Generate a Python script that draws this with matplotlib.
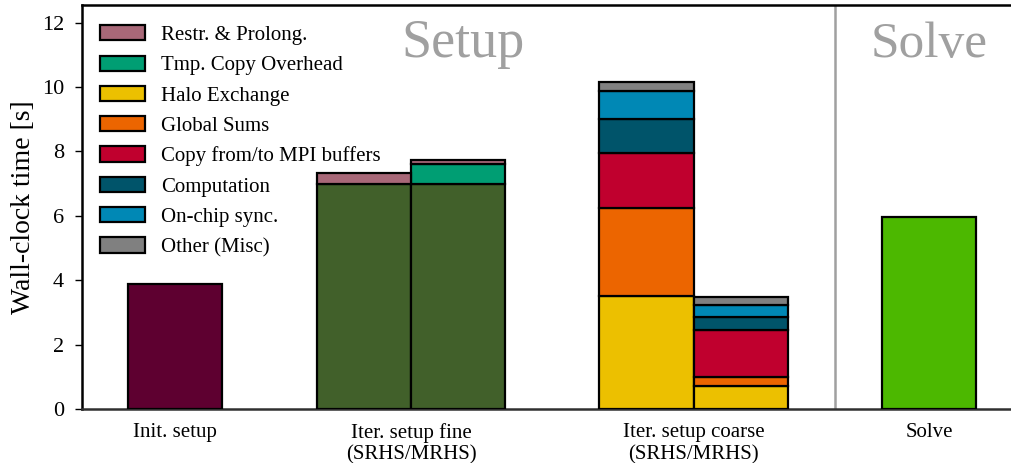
import matplotlib
matplotlib.use('Agg')
import matplotlib.pyplot as plt
from matplotlib.patches import Patch

plt.rcParams['font.family'] = ['Liberation Serif', 'DejaVu Serif']
plt.rcParams['mathtext.fontset'] = 'stix'

# bar positions (in bar widths) and group labels
positions = [0, 2, 3, 5, 6, 8]
group_pos = [0, 2.5, 5.5, 8]
group_labels = ['Init. setup', 'Iter. setup fine\n(SRHS/MRHS)',
                'Iter. setup coarse\n(SRHS/MRHS)', 'Solve']

# base (single-colour) bars
base_values = [3.88, 7.0, 7.0, 0.0, 0.0, 5.96]
base_colors = ['#5e0030', '#41602a', '#41602a', '#ffffff', '#ffffff', '#4cb800']

# stacked components, bottom to top
components = ['Halo Exchange', 'Global Sums', 'Copy from/to MPI buffers',
              'Computation', 'On-chip sync.', 'Other (Misc)',
              'Tmp. Copy Overhead', 'Restr. & Prolong.']
halo      = [0, 0, 0, 3.51, 0.71, 0]
gsums     = [0, 0, 0, 2.74, 0.27, 0]
mpi_copy  = [0, 0, 0, 1.69, 1.47, 0]
compute   = [0, 0, 0, 1.06, 0.42, 0]
onchip    = [0, 0, 0, 0.89, 0.36, 0]
other     = [0, 0, 0, 0.28, 0.24, 0]
tmp_copy  = [0, 0, 0.61, 0, 0, 0]
restr     = [0, 0.34, 0.12, 0, 0, 0]

colors = {
    'Restr. & Prolong.': '#a86878',
    'Tmp. Copy Overhead': '#009e73',
    'Halo Exchange': '#ecc000',
    'Global Sums': '#ec6500',
    'Copy from/to MPI buffers': '#c0002e',
    'Computation': '#00546a',
    'On-chip sync.': '#0088b5',
    'Other (Misc)': '#808080',
}
legend_order = ['Restr. & Prolong.', 'Tmp. Copy Overhead', 'Halo Exchange',
                'Global Sums', 'Copy from/to MPI buffers', 'Computation',
                'On-chip sync.', 'Other (Misc)']

fig = plt.figure(figsize=(10.12, 4.63), dpi=100)
ax = fig.add_axes([82 / 1012, (463 - 409) / 463, 935 / 1012, 404 / 463])

lw = 1.6
for p, v, c in zip(positions, base_values, base_colors):
    if v > 0:
        ax.bar(p, v, width=1.0, color=c, edgecolor='black', linewidth=lw, zorder=3)

bottoms = list(base_values)
stack = [halo, gsums, mpi_copy, compute, onchip, other, tmp_copy, restr]
for name, vals in zip(components, stack):
    for i, (p, v) in enumerate(zip(positions, vals)):
        if v > 0:
            ax.bar(p, v, width=1.0, bottom=bottoms[i], color=colors[name],
                   edgecolor='black', linewidth=lw, zorder=3)
            bottoms[i] += v

ax.axvline(7.0, color='#a0a0a0', linewidth=1.8, zorder=1)
ax.text(3.05, 10.93, 'Setup', fontsize=39, color='#a0a0a0', ha='center', va='baseline')
ax.text(8.0, 10.93, 'Solve', fontsize=37, color='#a0a0a0', ha='center', va='baseline')

ax.set_xlim(-0.99, 8.93)
ax.set_ylim(0, 12.55)
ax.set_yticks(range(0, 13, 2))
ax.set_xticks(group_pos)
ax.set_xticklabels(group_labels, fontsize=15)
ax.tick_params(axis='x', length=0, pad=10)
ax.tick_params(axis='y', labelsize=16, width=1.0, length=5, pad=8)
ax.set_ylabel('Wall-clock time [s]', fontsize=20, labelpad=4)

for s in ['left', 'top', 'bottom']:
    ax.spines[s].set_linewidth(1.8)
ax.spines['bottom'].set_color('#303030')
ax.spines['right'].set_visible(False)

handles = [Patch(facecolor=colors[n], edgecolor='black', linewidth=lw) for n in legend_order]
ax.legend(handles, legend_order, loc='upper left', bbox_to_anchor=(0.019, 0.95),
          frameon=False, fontsize=15, borderpad=0, borderaxespad=0,
          handlelength=2.16, handleheight=0.75, labelspacing=0.5,
          handletextpad=0.8)

fig.savefig('out.png', dpi=100)
